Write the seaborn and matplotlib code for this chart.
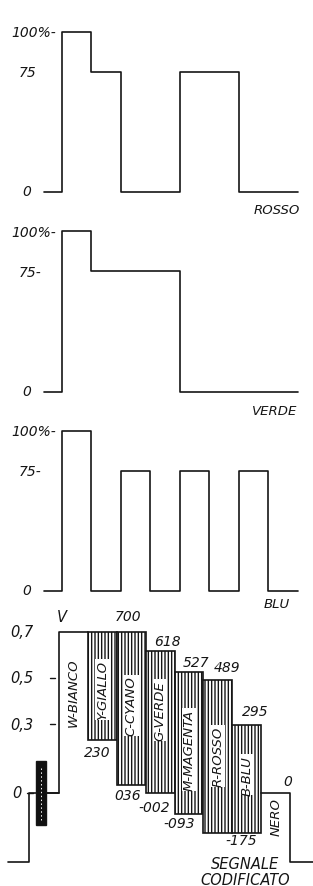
import numpy as np
import pandas as pd
import matplotlib
matplotlib.use("Agg")
import matplotlib.pyplot as plt
import seaborn as sns

sns.set_theme(style="white")
plt.rcParams["font.family"] = ["DejaVu Sans"]
plt.rcParams["hatch.linewidth"] = 1.0

# ── dati ───────────────────────────────────────────────────────────────────────
barre = ["W", "Y", "C", "G", "M", "R", "B", "N"]
rosso = [100, 75, 0, 0, 75, 75, 0, 0]
verde = [100, 75, 75, 75, 0, 0, 0, 0]
blu = [100, 0, 75, 0, 75, 0, 75, 0]
nomi_pannelli = ["ROSSO", "VERDE", "BLU"]

etichette = ["W-BIANCO", "Y-GIALLO", "C-CYANO", "G-VERDE",
             "M-MAGENTA", "R-ROSSO", "B-BLU", "NERO"]
sig_alto = [0.700, 0.700, 0.700, 0.618, 0.527, 0.489, 0.295, 0.0]
sig_basso = [0.0, 0.230, 0.036, -0.002, -0.093, -0.175, -0.175, 0.0]
livello_sync = -0.3
burst = 0.14

tick_pct = ["100%", "75", "0"]
tick_v = ["0,7", "0,5", "0,3", "0"]

# ── figura ─────────────────────────────────────────────────────────────────────
W, H = 313, 887
INK = "#151515"
fig = plt.figure(figsize=(W / 100, H / 100), dpi=100)
fig.patch.set_facecolor("white")


def fascia(y0, y1):
    ax = fig.add_axes([0, 1 - y1 / H, 1, (y1 - y0) / H])
    ax.set_axis_off()
    return ax


def testo(x, y, s, size=10, **kw):
    fig.text(x / W, 1 - y / H, s, fontsize=size, style="italic", color=INK,
             fontweight="medium",
             ha=kw.pop("ha", "center"), va=kw.pop("va", "center"), **kw)


# ── pannelli R, G, B ──────────────────────────────────────────────────────────
fasce = [(0, 215), (215, 415), (415, 612)]
ylims = [(-13.75, 120.6), (-13.7, 110.6), (-12.5, 110.6)]
zero_px = [193, 393, 592]
nome_px = [(277, 210), (275, 412), (277, 605)]

for k, (vals, nome) in enumerate(zip([rosso, verde, blu], nomi_pannelli)):
    ax = fascia(*fasce[k])
    df = pd.DataFrame({"x": [-0.6] + list(range(len(barre) + 1)),
                       "y": [0] + vals + [vals[-1]]})
    sns.lineplot(data=df, x="x", y="y", drawstyle="steps-post", estimator=None,
                 sort=False, color=INK, lw=1.2, ax=ax)
    ax.set_xlim(-2.10, 8.51)
    ax.set_ylim(*ylims[k])
    ax.set_axis_off()

    z = zero_px[k]
    px = 1.6
    sfx = "" if k == 0 else "-"
    testo(34, z - 100 * px, tick_pct[0] + "-", size=10)
    testo(30 if k else 28, z - 75 * px, tick_pct[1] + sfx, size=10)
    testo(27, z - 1, tick_pct[2], size=10)
    testo(*nome_px[k], nome, size=9.5)

# ── segnale codificato ─────────────────────────────────────────────────────────
ax4 = fascia(612, 887)
ax4.set_xlim(-2.04, 8.79)
ax4.set_ylim(-0.404, 0.791)

# barre tratteggiate (Y .. B)
idx = np.arange(1, 7)
alto = np.array(sig_alto[1:7])
basso = np.array(sig_basso[1:7])
ax4.bar(idx, alto - basso, bottom=basso, width=1, align="edge",
        color="white", edgecolor=INK, hatch="|||||", lw=1.2, zorder=2)

# contorno: sincronismo, burst, bianco, nero
sx = pd.DataFrame({"x": [-1.76, -1.04, 0, 1],
                   "y": [livello_sync, 0, sig_alto[0], sig_alto[0]]})
dx = pd.DataFrame({"x": [7, 8, 8.79],
                   "y": [sig_alto[7], livello_sync, livello_sync]})
for d in (sx, dx):
    sns.lineplot(data=d, x="x", y="y", drawstyle="steps-post", estimator=None,
                 sort=False, color=INK, lw=1.2, ax=ax4)
ax4.bar(-0.80, 2 * burst, bottom=-burst, width=0.35, align="edge",
        color="#111111", edgecolor=INK, zorder=3)
ax4.plot([-0.62, -0.62], [-burst * 0.85, burst * 0.85], color="white",
         lw=0.7, ls=(0, (1.5, 2.5)), zorder=4)
ax4.set_axis_off()

# etichette verticali sulle barre
lab_y = [0.44, 0.45, 0.38, 0.36, 0.19, 0.16, 0.08, -0.10]
for i, s in enumerate(etichette):
    bb = None if i in (0, 7) else dict(facecolor="white", edgecolor="none", pad=0.6)
    ax4.text(i + 0.5, lab_y[i], s, rotation=90, ha="center", va="center",
             fontsize=9.5, style="italic", fontweight="medium", color=INK,
             bbox=bb, zorder=5)


def fmt(v):
    s = f"{abs(v) * 1000:03.0f}"
    if v == 0:
        return "0"
    return ("-" if v < 0 else "") + s


# valori in alto e in basso
top_off = {2: (-3, 16), 3: (7, 10), 4: (7, 10), 5: (9, 13), 6: (8, 14), 7: (12, 12)}
bot_off = {1: (-5, -12), 2: (-4, -10), 3: (-6, -14), 4: (-10, -9), 5: (23, -7)}
for i, (ox, oy) in top_off.items():
    ax4.annotate(fmt(sig_alto[i]), (i + 0.5, sig_alto[i]), xytext=(ox, oy),
                 textcoords="offset pixels", ha="center", va="center",
                 fontsize=10, style="italic", fontweight="medium", color=INK)
for i, (ox, oy) in bot_off.items():
    ax4.annotate(fmt(sig_basso[i]), (i + 0.5, sig_basso[i]), xytext=(ox, oy),
                 textcoords="offset pixels", ha="center", va="center",
                 fontsize=10, style="italic", fontweight="medium", color=INK)

# scala in volt
zero4 = 794
for s, v in zip(tick_v, [0.7, 0.5, 0.3, 0.0]):
    testo(22 if v else 17, zero4 - v * 230, s, size=10.5)
for v in (0.5, 0.3):
    ax4.plot([-0.32, -0.15], [v, v], color=INK, lw=1.0)
ax4.plot([-1.1, -0.9], [0, 0], color=INK, lw=1.0)
ax4.plot([-0.45, 0], [0, 0], color=INK, lw=1.2)
testo(62, 617, "V", size=10.5)

testo(245, 865, "SEGNALE", size=10.5)
testo(245, 881, "CODIFICATO", size=10.5)

fig.savefig("out.png", dpi=100, facecolor="white")
